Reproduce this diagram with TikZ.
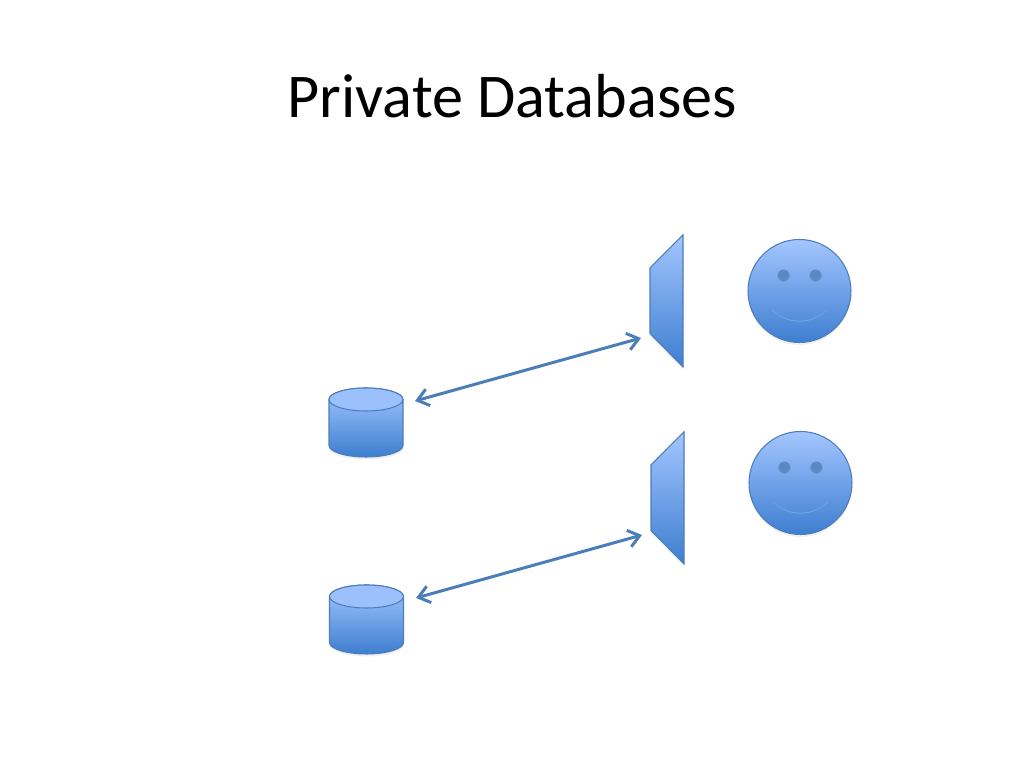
\documentclass[tikz,border=0pt]{standalone}
\usepackage{fontspec}
\setmainfont{Carlito}
\usetikzlibrary{shapes.geometric,arrows.meta,shadows}
\definecolor{shapetop}{RGB}{163,198,255}
\definecolor{shapebot}{RGB}{62,126,208}
\definecolor{shapeline}{RGB}{74,126,187}
\definecolor{eyefill}{RGB}{92,135,194}

\begin{document}
\begin{tikzpicture}[
  soft/.style={drop shadow={opacity=0.12, shadow xshift=0cm, shadow yshift=-0.025cm}},
  blue shape/.style={draw=shapeline, line width=0.3pt, top color=shapetop, bottom color=shapebot, soft},
  dbase lid/.style={ellipse, draw=shapeline, line width=0.3pt, fill=shapetop!92!shapebot,
    inner sep=0pt, minimum width=0.74cm, minimum height=0.23cm},
  face/.style={blue shape, circle, inner sep=0pt, minimum size=1.03cm},
  eye/.style={circle, draw=shapeline!70!shapetop, line width=0.2pt, fill=eyefill, inner sep=0pt, minimum size=0.115cm},
  link/.style={draw=shapeline, line width=0.85pt, {Straight Barb[length=1.1mm,width=1.7mm]}-{Straight Barb[length=1.1mm,width=1.7mm]}},
  ]
  \useasboundingbox (0,0) rectangle (10.24,7.68);
  \node (title) at (5.12,6.72) {\fontsize{17.7pt}{20pt}\selectfont Private Databases};

  % one row per user
  \foreach \n/\dx/\dy/\fx/\fy in {1/0/0/0/0, 2/0.005/-1.97/0.01/-1.92} {
    \begin{scope}[xshift=\dx cm, yshift=\dy cm]
      \draw[blue shape] (3.29,3.685) -- (3.29,3.225) arc (180:360:0.37 and 0.115) -- (4.03,3.685)
        arc (0:180:0.37 and 0.115) -- cycle;
      \node[dbase lid] (lid\n) at (3.66,3.685) {};
    \end{scope}
    \begin{scope}[xshift=\fx cm, yshift=\dy cm]
      \draw[blue shape] (6.5,5.0) -- (6.83,5.33) -- (6.83,4.01) -- (6.5,4.345) -- cycle;
      \coordinate (dbend\n) at (4.15,3.67);
      \coordinate (wallend\n) at (6.41,4.30);
      \draw[link] (dbend\n) -- (wallend\n);
    \end{scope}
    \begin{scope}[xshift=\fx cm, yshift=\fy cm]
      \node[face] (face\n) at (7.995,4.77) {};
      \node[eye] (eyel\n) at (7.835,4.925) {};
      \node[eye] (eyer\n) at (8.155,4.925) {};
      \draw[shapeline!55!shapetop, line width=0.3pt] (7.72,4.585) .. controls (7.86,4.43) and (8.13,4.43) .. (8.27,4.585);
    \end{scope}
  }
\end{tikzpicture}
\end{document}
